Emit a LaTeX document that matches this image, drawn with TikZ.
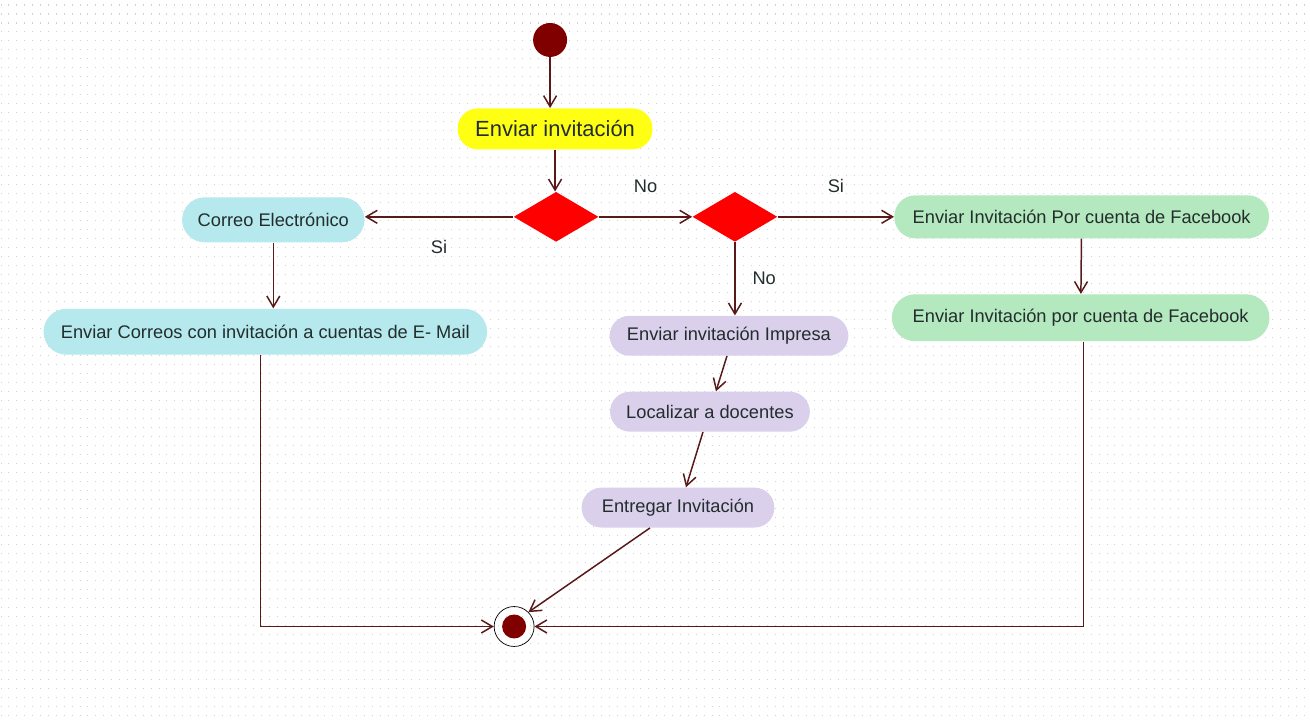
\documentclass[tikz,border=0pt]{standalone}
\usepackage{fontspec}
\setmainfont{Liberation Sans}
\usetikzlibrary{shapes.geometric, arrows.meta}

\definecolor{startred}{RGB}{128,0,0}
\definecolor{actyellow}{RGB}{255,255,20}
\definecolor{actcyan}{RGB}{182,233,237}
\definecolor{actgreen}{RGB}{180,232,190}
\definecolor{actpurple}{RGB}{218,208,236}
\definecolor{flowline}{RGB}{90,25,25}
\definecolor{acttext}{RGB}{35,45,45}

\begin{document}
\begin{tikzpicture}[x=0.02cm, y=-0.02cm,
        activity/.style={rounded corners=0.42cm, minimum height=0.86cm,
            inner sep=0pt, text=acttext, font=\fontsize{10.4}{12}\selectfont},
        decision/.style={diamond, fill=red, aspect=1.7, inner sep=0pt,
            minimum width=1.7cm, minimum height=1cm},
        flow/.style={draw=flowline, line width=0.85pt,
            -{Straight Barb[length=2.2mm, width=2.6mm]}},
        guard/.style={text=acttext, font=\fontsize{10.4}{12}\selectfont}]

        \fill[white] (0, 0) rectangle (1310, 723);
        \foreach \row in {5, 14, ..., 720}
            \draw[gray!35, line width=0.6pt, dash pattern=on 0.6pt off 3.9pt]
                (0, \row) -- (1310, \row);

        \node[circle, fill=startred, minimum size=0.68cm] (start) at (550, 40) {};
        \node[activity, fill=actyellow, minimum width=3.9cm, minimum height=0.82cm,
            rounded corners=0.4cm, font=\fontsize{12.5}{14}\selectfont]
            (inv) at (555, 129) {Enviar invitación};

        \node[decision] (dec1) at (556, 217) {};
        \node[decision] (dec2) at (735, 217) {};

        \node[activity, fill=actcyan, minimum width=3.65cm, minimum height=0.9cm,
            rounded corners=0.45cm] (corr) at (273, 220) {Correo Electrónico};
        \node[activity, fill=actcyan, minimum width=8.88cm, minimum height=0.92cm,
            rounded corners=0.46cm] (mails) at (265, 332)
            {Enviar Correos con invitación a cuentas de E- Mail};

        \node[activity, fill=actgreen, minimum width=7.5cm] (fb1) at (1082, 217)
            {Enviar Invitación Por cuenta de Facebook};
        \node[activity, fill=actgreen, minimum width=7.56cm, minimum height=0.94cm,
            rounded corners=0.47cm] (fb2) at (1081, 318)
            {Enviar Invitación por cuenta de Facebook};

        \node[activity, fill=actpurple, minimum width=4.78cm, minimum height=0.8cm,
            rounded corners=0.4cm] (imp) at (729, 336) {Enviar invitación Impresa};
        \node[activity, fill=actpurple, minimum width=4cm, minimum height=0.8cm,
            rounded corners=0.4cm] (loc) at (710, 412) {Localizar a docentes};
        \node[activity, fill=actpurple, minimum width=3.86cm, minimum height=0.8cm,
            rounded corners=0.4cm] (ent) at (678, 508) {Entregar Invitación};

        \node[circle, draw=black, thin, minimum size=0.8cm] (fin) at (514, 627) {};
        \fill[startred] (fin) circle (0.24cm);

        \draw[flow] (start) -- (start |- inv.north);
        \draw[flow] (inv) -- (inv |- dec1.north);
        \draw[flow] (dec1.west) -- node[guard, below=0.34cm] {Si}
            (dec1.west -| corr.east);
        \draw[flow] (dec1.east) -- node[guard, above=0.36cm] {No} (dec2.west);
        \draw[flow] (dec2.east) -- node[guard, above=0.36cm] {Si} (fb1.west);
        \draw[flow] (dec2.south) -- node[guard, right=0.22cm] {No}
            (dec2.south |- imp.north);

        \draw[flow] (corr.south) -- (corr.south |- mails.north);
        \draw[flow] (fb1) -- (fb2);
        \draw[flow] ([xshift=-0.04cm]imp.south) -- ([xshift=0.12cm]loc.north);
        \draw[flow] ([xshift=-0.14cm]loc.south) -- ([xshift=0.16cm]ent.north);
        \draw[flow] ([xshift=-0.56cm]ent.south) -- (fin.45);

        \draw[flow] ([xshift=-0.1cm]mails.south) |- (fin.west);
        \draw[flow] ([xshift=0.06cm]fb2.south) |- (fin.east);

    \end{tikzpicture}
\end{document}
